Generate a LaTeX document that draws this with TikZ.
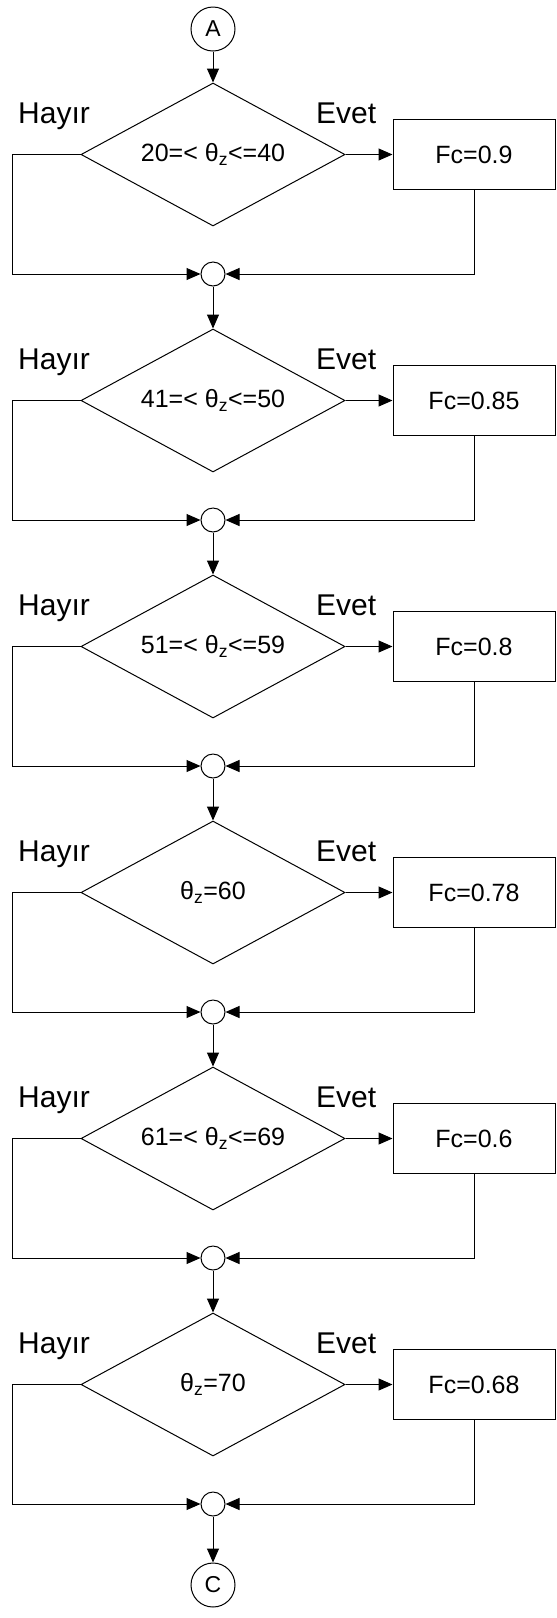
\documentclass[tikz,border=0pt]{standalone}
\usepackage{fontspec}
\setmainfont{Liberation Sans}
\usetikzlibrary{shapes.geometric,arrows.meta}
\tikzset{
  dec/.style={diamond, draw, line width=1pt, minimum width=264pt, minimum height=143pt, inner sep=0pt, aspect=1.846, font=\fontsize{25}{30}\selectfont},
  res/.style={rectangle, draw, line width=1pt, minimum width=162pt, minimum height=70pt, inner sep=0pt, font=\fontsize{25}{30}\selectfont},
  joint/.style={circle, draw, line width=1pt, minimum size=24pt, inner sep=0pt},
  conn/.style={circle, draw, line width=1pt, minimum size=44pt, inner sep=0pt, font=\fontsize{23}{28}\selectfont},
  lab/.style={anchor=base west, inner sep=0pt, font=\fontsize{30}{36}\selectfont},
  flow/.style={line width=1pt, -{Triangle[length=14pt,width=12pt]}},
}
\begin{document}
\begin{tikzpicture}[x=1pt,y=-1pt]
\useasboundingbox (0,0) rectangle (557,1618);
\node[conn] (A) at (213,29) {A};
\node[conn] (C) at (213,1585) {C};
\foreach \i/\t/\f in {0/{20=< θ\textsubscript{z}<=40}/0.9,
                      1/{41=< θ\textsubscript{z}<=50}/0.85,
                      2/{51=< θ\textsubscript{z}<=59}/0.8,
                      3/{θ\textsubscript{z}=60}/0.78,
                      4/{61=< θ\textsubscript{z}<=69}/0.6,
                      5/{θ\textsubscript{z}=70}/0.68} {
  \pgfmathsetmacro\yc{154.5+246*\i}
  \pgfmathsetmacro\ym{274+246*\i}
  \node[dec] (d\i) at (213,\yc) {\t};
  \node[res] (b\i) at (474,\yc) {Fc=\f};
  \node[joint] (m\i) at (213,\ym) {};
  \node[lab] (h\i) at (18,\yc-31.5) {Hayır};
  \node[lab] (e\i) at (316,\yc-31.5) {Evet};
  \coordinate (l\i) at (12,\yc);
  \draw[flow] (d\i.east) -- (b\i.west);
  \draw[flow] (d\i.west) -- (l\i) |- (m\i.west);
  \draw[flow] (b\i.south) |- (m\i.east);
}
\draw[flow] (A.south) -- (d0.north);
\foreach \i/\j in {0/1,1/2,2/3,3/4,4/5} {
  \draw[flow] (m\i.south) -- (d\j.north);
}
\draw[flow] (m5.south) -- (C.north);
\end{tikzpicture}
\end{document}
